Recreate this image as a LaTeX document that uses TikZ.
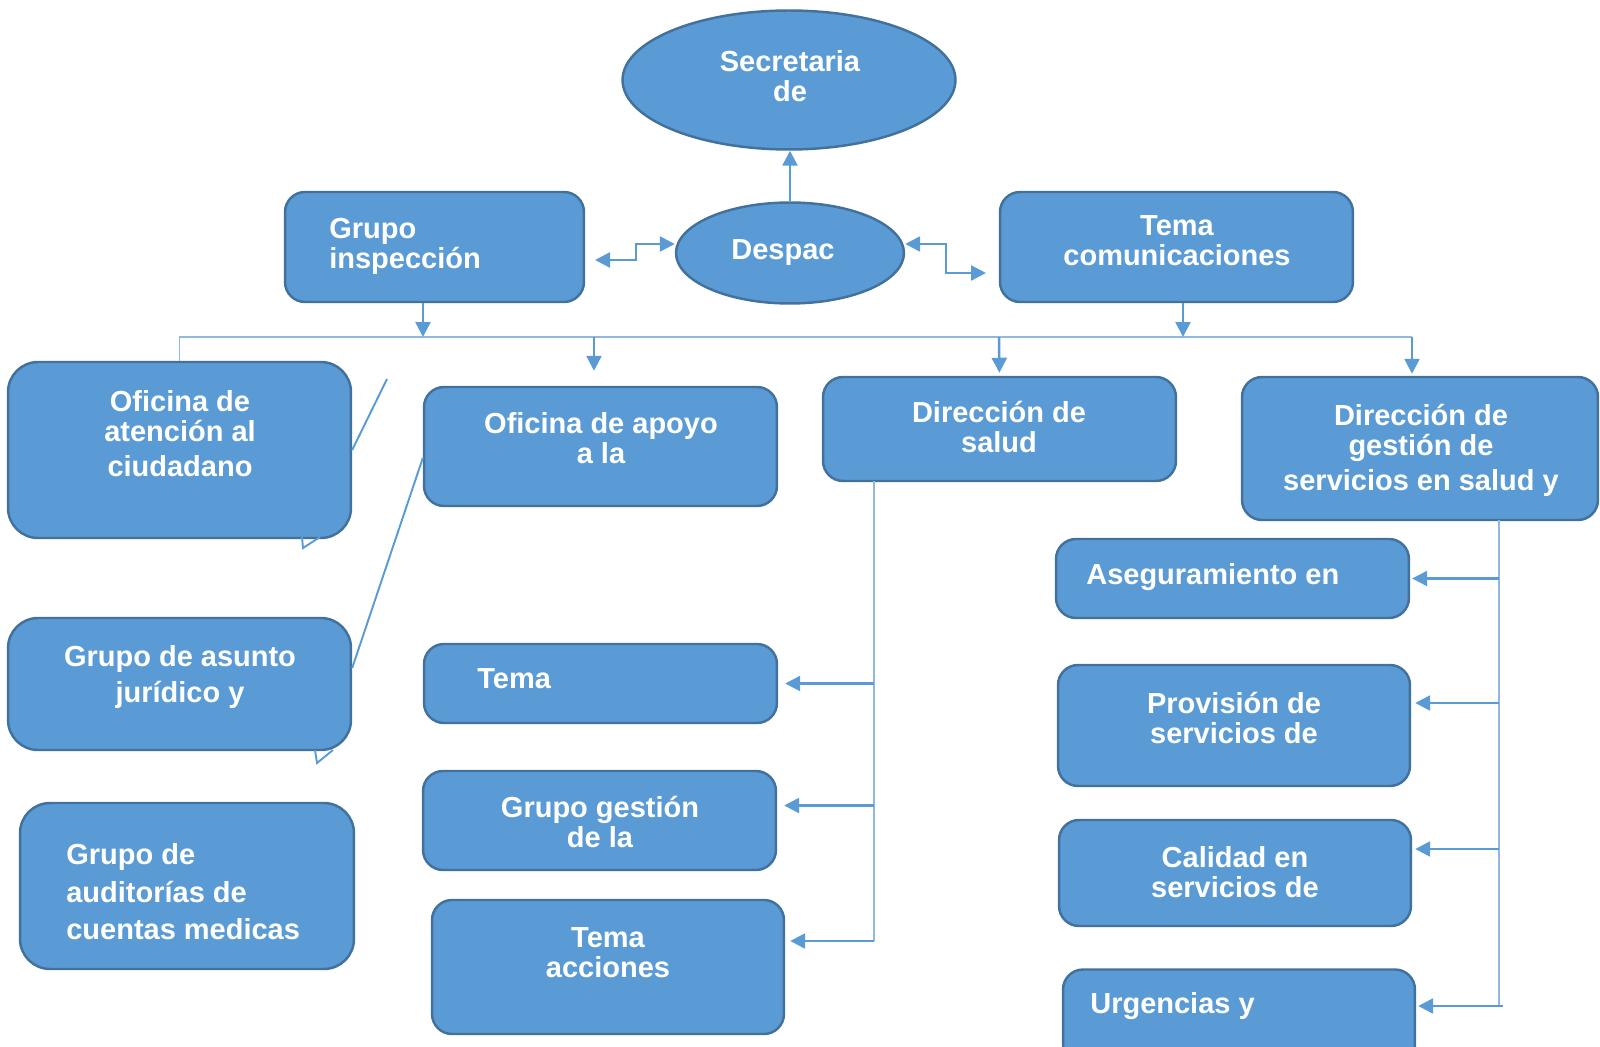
\documentclass[tikz,border=0pt]{standalone}
\usepackage{fontspec}
\setmainfont{Liberation Sans}
\usetikzlibrary{shapes.geometric,arrows.meta}
\definecolor{boxblue}{HTML}{5B9BD5}
\definecolor{edgeblue}{HTML}{41719C}
\definecolor{lineblue}{HTML}{8FB8E2}

\begin{document}
\begin{tikzpicture}[x=0.02cm, y=-0.02cm,
        box/.style={draw=edgeblue, fill=boxblue, line width=1.4pt, rounded corners=0.4cm, inner sep=0pt},
        bigbox/.style={box, rounded corners=0.6cm},
        oval/.style={ellipse, draw=edgeblue, fill=boxblue, line width=1.4pt, inner sep=0pt},
        txt/.style={text=white, font=\fontsize{16.5}{17}\selectfont\bfseries, align=center, inner sep=0pt},
        ltxt/.style={txt, align=left, anchor=west},
        arr/.style={draw=boxblue, line width=1.4pt, -{Triangle[length=0.3cm,width=0.3cm]}},
        twoarr/.style={draw=boxblue, line width=1.4pt, {Triangle[length=0.3cm,width=0.3cm]}-{Triangle[length=0.3cm,width=0.3cm]}},
        bus/.style={draw=lineblue, line width=0.9pt},
        pointer/.style={draw=boxblue, line width=1.1pt}]

        \useasboundingbox (0,0) rectangle (1600,1047);

        % top
        \node[oval, minimum width=6.66cm, minimum height=2.78cm] (secretaria) at (789,80) {};
        \node[oval, minimum width=4.56cm, minimum height=2.02cm] (despac) at (790,253) {};
        \node[box, minimum width=5.98cm, minimum height=2.2cm] (inspeccion) at (434.5,247) {};
        \node[box, minimum width=7.06cm, minimum height=2.2cm] (comunic) at (1176.5,247) {};

        % left column
        \node[bigbox, minimum width=6.86cm, minimum height=3.52cm] (atencion) at (179.5,450) {};
        \node[bigbox, minimum width=6.86cm, minimum height=2.64cm] (juridico) at (179.5,684) {};
        \node[bigbox, minimum width=6.68cm, minimum height=3.32cm] (auditorias) at (187,886) {};

        % middle column
        \node[box, minimum width=7.06cm, minimum height=2.38cm] (apoyo) at (600.5,446.5) {};
        \node[box, minimum width=7.06cm, minimum height=1.58cm] (tema) at (600.5,683.5) {};
        \node[box, minimum width=7.06cm, minimum height=1.98cm] (gestion) at (599.5,820.5) {};
        \node[box, minimum width=7.04cm, minimum height=2.68cm] (acciones) at (608,967) {};

        % right columns
        \node[box, minimum width=7.06cm, minimum height=2.08cm] (salud) at (999.5,429) {};
        \node[box, minimum width=7.12cm, minimum height=2.86cm] (dgestion) at (1420,448.5) {};
        \node[box, minimum width=7.06cm, minimum height=1.58cm] (asegur) at (1232.5,578.5) {};
        \node[box, minimum width=7.04cm, minimum height=2.42cm] (provision) at (1234,725.5) {};
        \node[box, minimum width=7.04cm, minimum height=2.12cm] (calidad) at (1235,873) {};
        \node[box, minimum width=7.04cm, minimum height=1.9cm] (urgencias) at (1239,1017) {};

        % texts
        \node[txt] (t-secretaria) at (790,76) {Secretaria\\de};
        \node[txt] (t-despac) at (783,253) {Despac};
        \node[ltxt] (t-inspeccion) at (329,246) {Grupo\\inspección};
        \node[txt] (t-comunic) at (1177,240.5) {Tema\\comunicaciones};
        \node[txt] (t-atencion) at (180,434) {Oficina de\\atención al\\[0.1cm]ciudadano};
        \node[txt] (t-juridico) at (180,677) {Grupo de asunto\\[0.12cm]jurídico y};
        \node[ltxt] (t-auditorias) at (66,892) {Grupo de\\[0.15cm]auditorías de\\[0.15cm]cuentas medicas};
        \node[txt] (t-apoyo) at (601,438) {Oficina de apoyo\\a la};
        \node[ltxt] (t-tema) at (477,679) {Tema};
        \node[txt] (t-gestion) at (600,822) {Grupo gestión\\de la};
        \node[txt] (t-acciones) at (608,952.5) {Tema\\acciones};
        \node[txt] (t-salud) at (999,427) {Dirección de\\salud};
        \node[txt] (t-dgestion) at (1421,450.5) {Dirección de\\gestión de\\[0.1cm]servicios en salud y};
        \node[ltxt] (t-asegur) at (1086,577) {Aseguramiento en};
        \node[txt] (t-provision) at (1234,718) {Provisión de\\servicios de};
        \node[txt] (t-calidad) at (1235,872) {Calidad en\\servicios de};
        \node[ltxt] (t-urgencias) at (1090,1006) {Urgencias y};

        % despacho links
        \draw[arr] (despac.north) -- (despac.north |- secretaria.south);
        \coordinate (li) at (595,260);
        \coordinate (ri) at (986,273);
        \draw[twoarr] (li) -- ++(41,0) |- ([yshift=0.18cm]despac.west);
        \draw[twoarr] ([yshift=0.18cm]despac.east) -- ++(41,0) |- (ri);

        % bus
        \coordinate (bi) at (423,337);
        \coordinate (ba) at (594,337);
        \coordinate (bs) at (999,337);
        \coordinate (bc) at (1183,337);
        \coordinate (br) at (1412,337);
        \draw[bus] (atencion.north) |- (br);
        \draw[arr] (bi |- inspeccion.south) -- (bi);
        \draw[arr] (bc |- comunic.south) -- (bc);
        \draw[arr, shorten >=0.3cm] (ba) -- (ba |- apoyo.north);
        \draw[arr, shorten >=0.06cm] (bs) -- (salud.north);
        \draw[arr, shorten >=0.04cm] (br) -- (br |- dgestion.north);

        % salud branch
        \coordinate (sv) at (874,481);
        \coordinate (g2) at ([yshift=0.3cm]gestion.east);
        \coordinate (a2) at ([yshift=0.52cm]acciones.east);
        \draw[bus] (sv) -- (sv |- a2);
        \draw[arr, shorten >=0.14cm] (sv |- tema.east) -- (tema.east);
        \draw[arr, shorten >=0.14cm] (sv |- g2) -- (g2);
        \draw[arr, shorten >=0.1cm] (sv |- a2) -- (a2);

        % gestion de servicios branch
        \coordinate (dv) at (1499,520);
        \coordinate (p2) at ([yshift=0.45cm]provision.east);
        \coordinate (c2) at ([yshift=0.48cm]calidad.east);
        \coordinate (u2) at ([yshift=0.22cm]urgencias.east);
        \draw[bus] (dv) -- (dv |- u2);
        \draw[arr, shorten >=0.04cm] (dv |- asegur.east) -- (asegur.east);
        \draw[arr, shorten >=0.08cm] (dv |- p2) -- (p2);
        \draw[arr, shorten >=0.06cm] (dv |- c2) -- (c2);
        \draw[arr, shorten >=0.04cm] ([xshift=0.08cm]dv |- u2) -- (u2);

        % callout pointers
        \coordinate (q1) at (387,379);
        \draw[pointer] (q1) -- (atencion.east);
        \draw[pointer] ([yshift=-0.23cm]apoyo.west) -- ([yshift=0.32cm]juridico.east);
        \draw[pointer] (302,537) -- (303,548) -- (320,537);
        \draw[pointer] (315,750) -- (317,763) -- (333,750);
    \end{tikzpicture}
\end{document}
